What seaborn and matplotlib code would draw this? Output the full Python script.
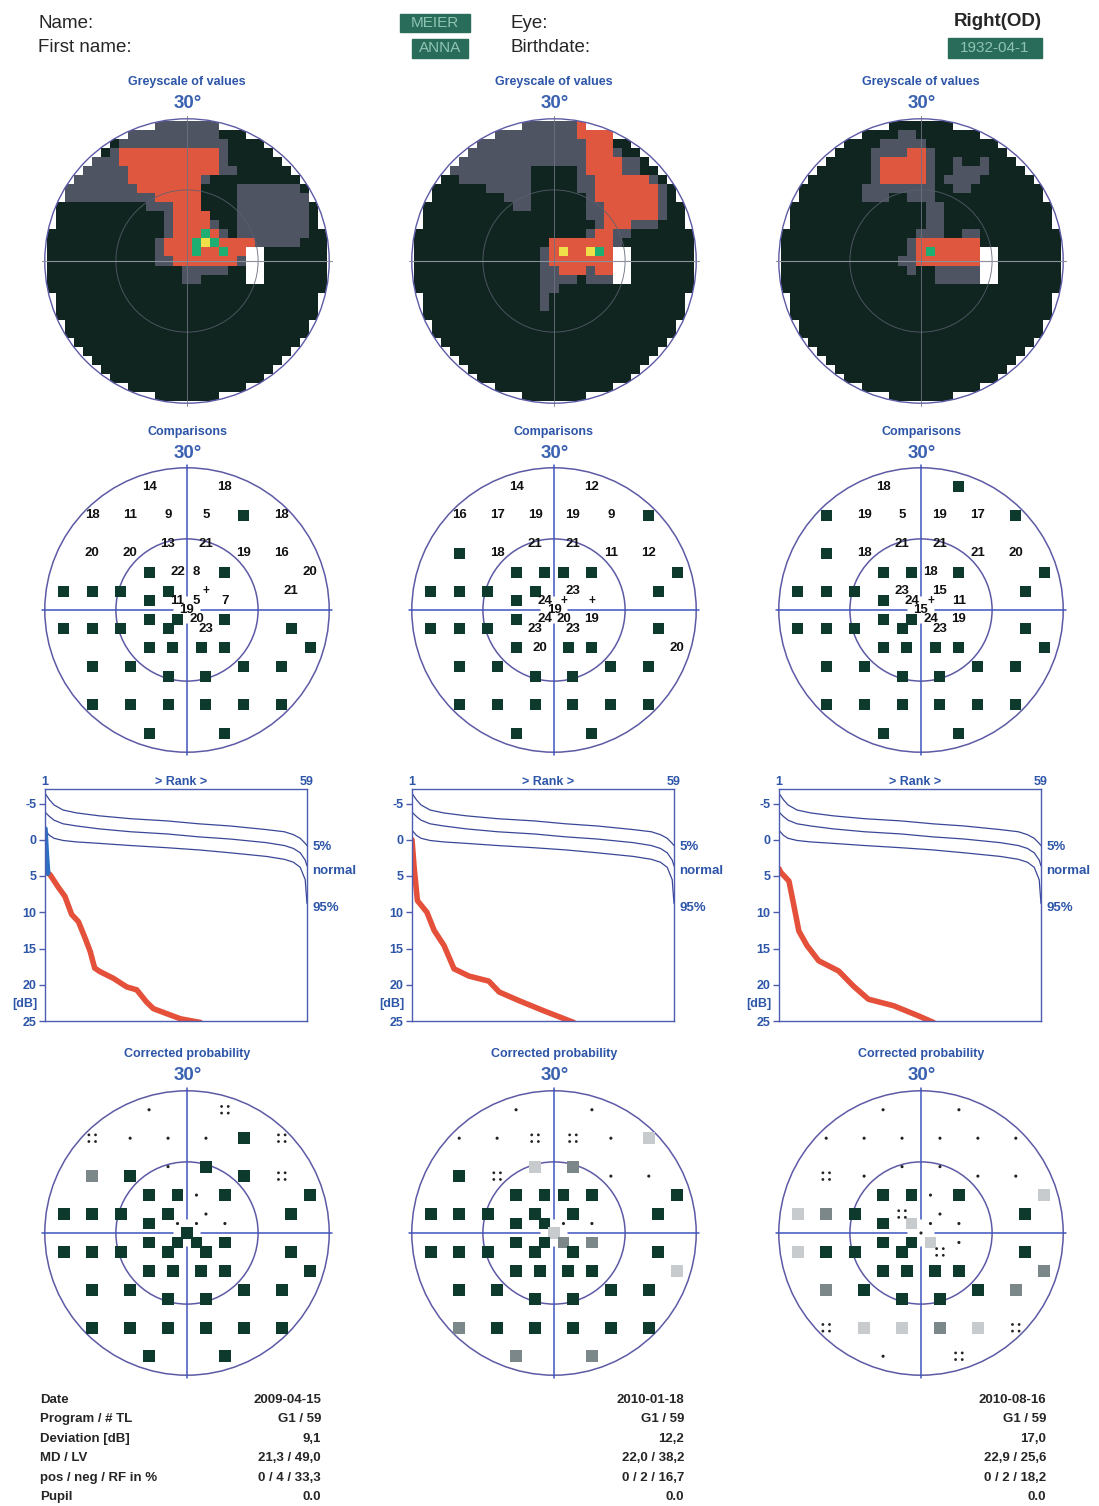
import numpy as np
import pandas as pd
import matplotlib
matplotlib.use('Agg')
import matplotlib.pyplot as plt
from matplotlib.colors import ListedColormap
from matplotlib.patches import Circle, Rectangle
import seaborn as sns

W, H = 1099, 1506

# G1 test locations (degrees)
G1_X = [-8, 8,
        -20, -12, -4, 4, 12, 20,
        -4, 4,
        -20, -12, 12, 20,
        -8, -2, 2, 8, 26,
        -26, -20, -14, -4, 4, 22,
        -8, -2, 2, 8,
        0,
        -8, -2, 2, 8,
        -26, -20, -14, -4, 4, 22,
        -8, -3, 3, 8, 26,
        -20, -12, 12, 20,
        -4, 4,
        -20, -12, -4, 4, 12, 20,
        -8, 8]
G1_Y = [26, 26,
        20, 20, 20, 20, 20, 20,
        14, 14,
        12, 12, 12, 12,
        8, 8, 8, 8, 8,
        4, 4, 4, 4, 4, 4,
        2, 2, 2, 2,
        0,
        -2, -2, -2, -2,
        -4, -4, -4, -4, -4, -4,
        -8, -8, -8, -8, -8,
        -12, -12, -12, -12,
        -14, -14,
        -20, -20, -20, -20, -20, -20,
        -26, -26]

# comparisons: number = defect in dB, S = absolute defect, + = normal
COMP_1 = ['14', '18',
          '18', '11', '9', '5', 'S', '18',
          '13', '21',
          '20', '20', '19', '16',
          'S', '22', '8', 'S', '20',
          'S', 'S', 'S', 'S', '+', '21',
          'S', '11', '5', '7',
          '19',
          'S', 'S', '20', 'S',
          'S', 'S', 'S', 'S', '23', 'S',
          'S', 'S', 'S', 'S', 'S',
          'S', 'S', 'S', 'S',
          'S', 'S',
          'S', 'S', 'S', 'S', 'S', 'S',
          'S', 'S']
COMP_2 = ['14', '12',
          '16', '17', '19', '19', '9', 'S',
          '21', '21',
          'S', '18', '11', '12',
          'S', 'S', 'S', 'S', 'S',
          'S', 'S', 'S', 'S', '23', 'S',
          'S', '24', '+', '+',
          '19',
          'S', '24', '20', '19',
          'S', 'S', 'S', '23', '23', 'S',
          'S', '20', 'S', 'S', '20',
          'S', 'S', 'S', 'S',
          'S', 'S',
          'S', 'S', 'S', 'S', 'S', 'S',
          'S', 'S']
COMP_3 = ['18', 'S',
          'S', '19', '5', '19', '17', 'S',
          '21', '21',
          'S', '18', '21', '20',
          'S', 'S', '18', 'S', 'S',
          'S', 'S', 'S', '23', '15', 'S',
          'S', '24', '+', '11',
          '15',
          'S', 'S', '24', '19',
          'S', 'S', 'S', 'S', '23', 'S',
          'S', 'S', 'S', 'S', 'S',
          'S', 'S', 'S', 'S',
          'S', 'S',
          'S', 'S', 'S', 'S', 'S', 'S',
          'S', 'S']

# corrected probability: S dark box, M mid grey, L light grey, Q four dots, . single dot
PROB_1 = list('.Q' 'Q...SQ' '.S' 'MSSQ' 'SS.SS' 'SSSS.S' 'S...' 'S' 'SSSS'
              'SSSSSS' 'SSSSS' 'SSSS' 'SS' 'SSSSSS' 'SS')
PROB_2 = list('..' '..QQ.L' 'LM' 'SQ..' 'SSSSS' 'SSSSSS' 'SS..' 'L' 'SSMM'
              'SSSSSS' 'SSSSL' 'SSSS' 'SS' 'MSSSSS' 'MM')
PROB_3 = list('..' '......' '..' 'Q...' 'SS.SL' 'LMSQ.S' 'SL..' '.' 'SSL.'
              'LSSSQS' 'SSSSM' 'MSSM' 'SS' 'QLLMLQ' '.Q')

# greyscale maps, rows from top to bottom, 31 columns left to right
# k dark, g grey, r red, y yellow, n green, w blind spot
GREY_1 = ["kkkkkkkkkkkkgggggggkkkkkkkkkkkk",
          "kkkkkkkkkggggggggggkkkkkkkkkkkk",
          "kkkkkkkkggggggggggggkkkkkkkkkkk",
          "kkkkkkkgrrrrrrrrrrrgkkkkkkkkkkk",
          "kkkkggggrrrrrrrrrrrgkkkkkkkkkkk",
          "kkkkgggggrrrrrrrrrrggkkkkkkkkkk",
          "kkkggggggrrrrrrrrgkkkkkkkkkkkkk",
          "kkggggggggrrrrrrrkkkkgggggggkkk",
          "kkggggggggggrrrrrkkkkggggggggkk",
          "kkkkkkkkkkkgggrrrkkkkggggggggkk",
          "kkkkkkkkkkkkkgrrrrkkkggggggggkk",
          "kkkkkkkkkkkkkgrrrrgkkggggggggkk",
          "kkkkkkkkkkkkkgrrrnrgkggggggggkk",
          "kkkkkkkkkkkkgrrrnynrrrrgggggkkk",
          "kkkkkkkkkkkkgrrrnrrnrrwwkkkkkkk",
          "kkkkkkkkkkkkggrrrrrrrgwwkkkkkkk",
          "kkkkkkkkkkkkkkkgggggkkwwkkkkkkk",
          "kkkkkkkkkkkkkkkggkkkkkwwkkkkkkk"] + ["k" * 31] * 13
GREY_2 = ["kkkkkkkkkkkkggggggrkkkkkkkkkkkk",
          "kkkkkkkkkgggggggggrrrrkkkkkkkkk",
          "kkkkkkgggggggggggggrrrkkkkkkkkk",
          "kkkkkggggggggggggggrrrgkkkkkkkk",
          "kkkkgggggggggggggggrrrrggkkkkkk",
          "kkkggggggggggkkkkkgrrrrggkkkkkk",
          "kkkkkggggggggkkkkkggrrrrrrgkkkk",
          "kkkkkkkkgggggkkkkkggrrrrrrrgkkk",
          "kkkkkkkkkkgggkkkkkkgrrrrrrrgkkk",
          "kkkkkkkkkkkggkkkkkkggrrrrrrgkkk",
          "kkkkkkkkkkkkkkkkkkkggrrrrrrgkkk",
          "kkkkkkkkkkkkkkkkkkkkgrrrgggkkkk",
          "kkkkkkkkkkkkkkkkkkkgrrggkkkkkkk",
          "kkkkkkkkkkkkkkkrrrrrrrgkkkkkkkk",
          "kkkkkkkkkkkkkkgryrrynrwwkkkkkkk",
          "kkkkkkkkkkkkkkgrrrrrrrwwkkkkkkk",
          "kkkkkkkkkkkkkkggrrrgrrwwkkkkkkk",
          "kkkkkkkkkkkkkkggggkgggwwkkkkkkk",
          "kkkkkkkkkkkkkkggkkkkkkkkkkkkkkk",
          "kkkkkkkkkkkkkkgkkkkkkkkkkkkkkkk",
          "kkkkkkkkkkkkkkgkkkkkkkkkkkkkkkk"] + ["k" * 31] * 10
GREY_3 = ["k" * 31,
          "kkkkkkkkkkkkkggkkkkkkkkkkkkkkkk",
          "kkkkkkkkkkkgggggkkkkkkkkkkkkkkk",
          "kkkkkkkkkkggggrrgkkkkkkkkkkkkkk",
          "kkkkkkkkkkgrrrrrgkkgkkgkkkkkkkk",
          "kkkkkkkkkkgrrrrrgkkggggkkkkkkkk",
          "kkkkkkkkkkgrrrrrgkggggkkkkkkkkk",
          "kkkkkkkkkggggggggkkggkkkkkkkkkk",
          "kkkkkkkkkgggkkgggkkkkkkkkkkkkkk",
          "kkkkkkkkkkkkkkkkggkkkkkkkkkkkkk",
          "kkkkkkkkkkkkkkkkggkkkkkkkkkkkkk",
          "kkkkkkkkkkkkkkkkggkkkkkkkkkkkkk",
          "kkkkkkkkkkkkkkkgggkkggkkkkkkkkk",
          "kkkkkkkkkkkkkkgrrrrrrrkkkkkkkkk",
          "kkkkkkkkkkkkkkgrnrrrrrwwkkkkkkk",
          "kkkkkkkkkkkkkggrrrrrrrwwkkkkkkk",
          "kkkkkkkkkkkkkkgkkgggggwwkkkkkkk",
          "kkkkkkkkkkkkkkkkkgggggwwkkkkkkk"] + ["k" * 31] * 13

# Bebie curves: normal limits and patient curves (rank vs dB)
NORM_RANK = [1, 2, 3, 5, 8, 13, 20, 28, 35, 42, 50, 54, 56, 57.5, 58.6, 59]
NORM_5 = [-6.4, -5.5, -4.8, -4.1, -3.7, -3.3, -2.9, -2.6, -2.2, -1.9, -1.4, -1.1, -0.7, -0.2, 0.5, 0.8]
NORM_50 = [-3.8, -3.2, -2.7, -2.2, -1.9, -1.5, -1.1, -0.8, -0.4, -0.1, 0.4, 0.8, 1.2, 1.8, 2.8, 3.6]
NORM_95 = [-1.3, -0.6, -0.2, 0.1, 0.3, 0.5, 0.8, 1.1, 1.4, 1.8, 2.3, 2.7, 3.1, 3.8, 5.5, 8.8]

P1_BLUE_RANK = [1, 1.3, 1.6]
P1_BLUE_DB = [-1.5, 2.0, 4.6]
P1_RANK = [1.6, 2.1, 4, 5.4, 6.9, 8.4, 9.9, 11, 12, 13.2, 16.1, 19.1, 21.3, 23.5, 25, 28, 31, 35.4]
P1_DB = [4.6, 4.8, 6.6, 7.8, 10.3, 11.3, 13.6, 15.4, 17.7, 18.2, 19.1, 20.3, 20.7, 22.4, 23.3, 24.0, 24.7, 25.2]
P2_RANK = [1, 1.5, 2.2, 4.3, 5.9, 8.1, 10.3, 13.6, 18, 20.3, 24.7, 30.2, 36.8]
P2_DB = [0, 4, 8.4, 10, 12.5, 14.6, 17.8, 18.8, 19.5, 21, 22.2, 23.6, 25.2]
P3_RANK = [1, 1.4, 3.2, 4.3, 5.4, 7.2, 9.8, 14.2, 17.5, 20.8, 26.4, 31.9, 35.2]
P3_DB = [4, 4.5, 5.7, 9.1, 12.6, 14.6, 16.7, 18.1, 20.2, 22, 22.9, 24.3, 25.2]

TABLE_LABELS = ['Date', 'Program / # TL', 'Deviation [dB]', 'MD / LV', 'pos / neg / RF in %', 'Pupil']
TABLE_VALUES = [['2009-04-15', 'G1 / 59', '9,1', '21,3 / 49,0', '0 / 4 / 33,3', '0.0'],
                ['2010-01-18', 'G1 / 59', '12,2', '22,0 / 38,2', '0 / 2 / 16,7', '0.0'],
                ['2010-08-16', 'G1 / 59', '17,0', '22,9 / 25,6', '0 / 2 / 18,2', '0.0']]

for g in (GREY_1, GREY_2, GREY_3):
    assert len(g) == 31 and all(len(r) == 31 for r in g)
for c in (COMP_1, COMP_2, COMP_3, PROB_1, PROB_2, PROB_3):
    assert len(c) == 59

sns.set_theme(style='white')
plt.rcParams['font.family'] = ['Liberation Sans', 'DejaVu Sans']
NARROW = ['Liberation Sans Narrow', 'Liberation Sans']

BLUE = '#2d55a8'
RING = '#5d5aa5'
CROSS = '#3f55bd'
BOX = '#0d3a2d'

fig = plt.figure(figsize=(W / 100, H / 100), dpi=100)
fig.patch.set_facecolor('white')


def rect(x0, y0, x1, y1):
    return [x0 / W, 1 - y1 / H, (x1 - x0) / W, (y1 - y0) / H]


def put(x, y, s, **kw):
    fig.text(x / W, 1 - y / H, s, **kw)


PX = 4.74          # pixels per degree
HALF = 32 * PX
COLS = [187, 554, 921]
CELL = 1.9         # greyscale cell size in degrees


def field_axes(cx, cy):
    ax = fig.add_axes(rect(cx - HALF, cy - HALF, cx + HALF, cy + HALF))
    ax.set_xlim(-32, 32)
    ax.set_ylim(-32, 32)
    ax.set_axis_off()
    ax.patch.set_alpha(0)
    return ax


def rings(ax, gap=3.0):
    ax.add_patch(Circle((0, 0), 30, fill=False, ec=RING, lw=1.1))
    ax.add_patch(Circle((0, 0), 15, fill=False, ec=RING, lw=1.1))
    for a, b in [(-30.5, -gap), (gap, 30.5)]:
        ax.plot([a, b], [0, 0], color=CROSS, lw=1.1)
        ax.plot([0, 0], [a, b], color=CROSS, lw=1.1)


def titles(cx, y, name):
    put(cx, y, name, ha='center', va='center', fontsize=9, fontweight='bold', color=BLUE)
    put(cx + 1, y + 22, '30°', ha='center', va='center', fontsize=13.5, fontweight='bold', color='#3a62b0')


GREY_CODES = {'k': 0, 'g': 1, 'r': 2, 'y': 3, 'n': 4, 'w': 5}
GREY_CMAP = ListedColormap(['#10251f', '#4e5462', '#e0573f', '#efe04a', '#1fae72', '#ffffff'])


def greyscale(cx, cy, rows):
    grid = np.array([[GREY_CODES[ch] for ch in row] for row in rows], dtype=float)
    deg = np.arange(-15, 16) * CELL
    gx, gy = np.meshgrid(deg, deg[::-1])
    outside = np.hypot(gx, gy) > 29.2
    ax = fig.add_axes(rect(cx - HALF, cy - HALF, cx + HALF, cy + HALF))
    sns.heatmap(grid, mask=outside, cmap=GREY_CMAP, vmin=-0.5, vmax=5.5, cbar=False,
                xticklabels=False, yticklabels=False, ax=ax)
    span = 32 / CELL
    ax.set_xlim(15.5 - span, 15.5 + span)
    ax.set_ylim(15.5 + span, 15.5 - span)
    ax.set_axis_off()
    ax.collections[0].set_clip_path(Circle((15.5, 15.5), 30 / CELL, transform=ax.transData))
    ov = field_axes(cx, cy)
    ov.plot([-30.5, 30.5], [0, 0], color='#8b909c', lw=0.8)
    ov.plot([0, 0], [-30.5, 30.5], color='#6c7282', lw=0.6)
    ov.add_patch(Circle((0, 0), 15, fill=False, ec='#5a6070', lw=0.7, alpha=0.8))
    ov.add_patch(Circle((0, 0), 30, fill=False, ec=RING, lw=1.0))


def comparisons(cx, cy, marks):
    ax = field_axes(cx, cy)
    rings(ax)
    df = pd.DataFrame({'x': G1_X, 'y': G1_Y, 'm': marks})
    sns.scatterplot(data=df[df.m == 'S'], x='x', y='y', marker='s', s=62,
                    color=BOX, edgecolor='none', ax=ax)
    for _, p in df[df.m != 'S'].iterrows():
        ax.text(p.x, p.y, p.m, ha='center', va='center', fontsize=9.5 if p.m != '+' else 8.5,
                fontweight='bold', color='#111111')
    ax.set_xlim(-32, 32)
    ax.set_ylim(-32, 32)


PROB_COLORS = {'S': BOX, 'M': '#7b8789', 'L': '#c7cbce'}


def probability(cx, cy, marks):
    ax = field_axes(cx, cy)
    rings(ax)
    df = pd.DataFrame({'x': G1_X, 'y': G1_Y, 'm': marks})
    boxes = df[df.m.isin(['S', 'M', 'L'])]
    sns.scatterplot(data=boxes, x='x', y='y', hue='m', palette=PROB_COLORS, marker='s',
                    s=72, edgecolor='none', legend=False, ax=ax)
    dots = df[df.m == '.']
    sns.scatterplot(data=dots, x='x', y='y', s=5, color='#222222', edgecolor='none', ax=ax)
    quads = df[df.m == 'Q']
    for dx, dy in [(-0.7, -0.7), (-0.7, 0.7), (0.7, -0.7), (0.7, 0.7)]:
        sns.scatterplot(x=quads.x + dx, y=quads.y + dy, s=4, color='#222222',
                        edgecolor='none', ax=ax)
    ax.set_xlim(-32, 32)
    ax.set_ylim(-32, 32)


def rank_panel(cx, rank, db, blue_rank=None, blue_db=None):
    ax = fig.add_axes(rect(cx - 142, 789, cx + 120, 1021))
    for vals in (NORM_5, NORM_50, NORM_95):
        sns.lineplot(x=NORM_RANK, y=vals, color='#3a4797', lw=0.9, estimator=None, ax=ax)
    sns.lineplot(x=rank, y=db, color='#e4503a', lw=4, estimator=None, ax=ax)
    if blue_rank:
        sns.lineplot(x=blue_rank, y=blue_db, color='#2c6fc2', lw=4, estimator=None, ax=ax)
    ax.set_xlim(1, 59)
    ax.set_ylim(25, -7)
    ax.set_xticks([])
    ax.set_yticks([-5, 0, 5, 10, 15, 20, 25])
    ax.set_yticklabels(['-5', '0', '5', '10', '15', '20', '25'])
    ax.tick_params(axis='y', left=True, length=4, width=1, color='#4c5cb0', pad=2,
                   labelsize=9, labelcolor=BLUE)
    for lab in ax.get_yticklabels():
        lab.set_fontweight('bold')
    ax.set_xlabel('')
    ax.set_ylabel('')
    for sp in ax.spines.values():
        sp.set_color('#4c5cb0')
        sp.set_linewidth(1.0)
    tr = ax.get_yaxis_transform()
    ax.text(-0.03, 22.6, '[dB]', transform=tr, ha='right', va='center', fontsize=9,
            fontweight='bold', color=BLUE)
    for x, s in [(0.0, '1'), (0.52, '> Rank >'), (1.0, '59')]:
        ax.text(x, 1.005, s, transform=ax.transAxes, ha='center', va='bottom', fontsize=9,
                fontweight='bold', color=BLUE)
    for y, s in [(1.0, '5%'), (4.3, 'normal'), (9.4, '95%')]:
        ax.text(1.02, y, s, transform=tr, ha='left', va='center', fontsize=9.5,
                fontweight='bold', color=BLUE)


# header
put(38, 24, 'Name:', fontsize=13.5, family=NARROW, va='center')
put(38, 48, 'First name:', fontsize=13.5, family=NARROW, va='center')
put(510, 24, 'Eye:', fontsize=13.5, family=NARROW, va='center')
put(510, 48, 'Birthdate:', fontsize=13.5, family=NARROW, va='center')
put(1042, 22, 'Right(OD)', fontsize=13.5, family=NARROW, fontweight='bold', ha='right', va='center')
for (x0, y0, x1, y1, s) in [(400, 14, 470, 32, 'MEIER'), (412, 39, 468, 58, 'ANNA'),
                            (948, 38, 1042, 58, '1932-04-1')]:
    fig.patches.append(Rectangle((x0 / W, 1 - y1 / H), (x1 - x0) / W, (y1 - y0) / H,
                                 transform=fig.transFigure, color='#2a6c5a', zorder=1))
    put((x0 + x1) / 2, (y0 + y1) / 2, s, ha='center', va='center', fontsize=11,
        family=NARROW, color='#8fc3b2', zorder=2)

panels = [(GREY_1, COMP_1, PROB_1, P1_RANK, P1_DB, P1_BLUE_RANK, P1_BLUE_DB),
          (GREY_2, COMP_2, PROB_2, P2_RANK, P2_DB, None, None),
          (GREY_3, COMP_3, PROB_3, P3_RANK, P3_DB, None, None)]

for cx, (grey, comp, prob, rk, db, brk, bdb) in zip(COLS, panels):
    titles(cx, 82, 'Greyscale of values')
    greyscale(cx, 261, grey)
    titles(cx, 432, 'Comparisons')
    comparisons(cx, 610, comp)
    rank_panel(cx, rk, db, brk, bdb)
    titles(cx, 1054, 'Corrected probability')
    probability(cx, 1233, prob)

# summary table
ROW_Y = [1400, 1419, 1439, 1458, 1478, 1497]
for y, lab in zip(ROW_Y, TABLE_LABELS):
    put(40, y, lab, fontsize=9.5, fontweight='bold', family=NARROW, va='center')
for x, vals in zip([321, 684, 1046], TABLE_VALUES):
    for y, v in zip(ROW_Y, vals):
        put(x, y, v, fontsize=9.5, fontweight='bold', family=NARROW, va='center', ha='right')

fig.savefig('out.png', dpi=100, facecolor='white')
